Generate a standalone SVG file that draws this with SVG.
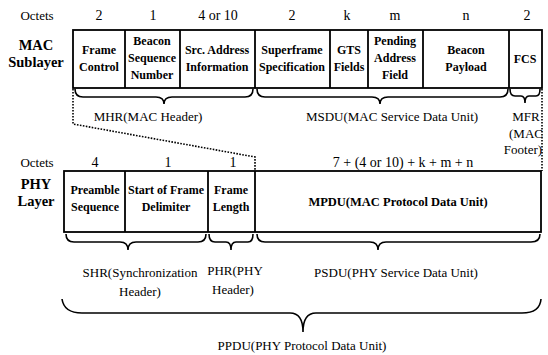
<svg xmlns="http://www.w3.org/2000/svg" width="548" height="355" viewBox="0 0 548 355">
<defs>
<style>
.box{fill:none;stroke:#000;stroke-width:1.8}
.div{stroke:#000;stroke-width:1.8}
.br{fill:none;stroke:#000;stroke-width:1.6}
.dot{fill:none;stroke:#000;stroke-width:1.6;stroke-dasharray:1.6 1.4}
</style>
</defs>
<rect width="548" height="355" fill="#fff"/>
<g id="labels">
<text style="font-family:'Liberation Serif',serif !important" font-size="13" text-anchor="middle" x="37" y="20">Octets</text>
<text style="font-family:'Liberation Serif',serif !important" font-size="14.5" font-weight="bold" text-anchor="middle" x="36" y="50">MAC</text>
<text style="font-family:'Liberation Serif',serif !important" font-size="14.5" font-weight="bold" text-anchor="middle" x="36" y="67">Sublayer</text>
<text style="font-family:'Liberation Serif',serif !important" font-size="13" text-anchor="middle" x="37" y="167">Octets</text>
<text style="font-family:'Liberation Serif',serif !important" font-size="14.5" font-weight="bold" text-anchor="middle" x="36" y="189">PHY</text>
<text style="font-family:'Liberation Serif',serif !important" font-size="14.5" font-weight="bold" text-anchor="middle" x="36" y="206">Layer</text>
</g>
<g id="mac-octets">
<text style="font-family:'Liberation Serif',serif !important" font-size="14" text-anchor="middle" x="99" y="20">2</text>
<text style="font-family:'Liberation Serif',serif !important" font-size="14" text-anchor="middle" x="153" y="20">1</text>
<text style="font-family:'Liberation Serif',serif !important" font-size="14" text-anchor="middle" x="218" y="20">4 or 10</text>
<text style="font-family:'Liberation Serif',serif !important" font-size="14" text-anchor="middle" x="292" y="20">2</text>
<text style="font-family:'Liberation Serif',serif !important" font-size="14" text-anchor="middle" x="347" y="20">k</text>
<text style="font-family:'Liberation Serif',serif !important" font-size="14" text-anchor="middle" x="395" y="20">m</text>
<text style="font-family:'Liberation Serif',serif !important" font-size="14" text-anchor="middle" x="466" y="20">n</text>
<text style="font-family:'Liberation Serif',serif !important" font-size="14" text-anchor="middle" x="527" y="20">2</text>
</g>
<g id="mac-frame">
<rect class="box" x="73" y="30" width="469" height="58"/>
<line class="div" x1="125" y1="30" x2="125" y2="88"/>
<line class="div" x1="180" y1="30" x2="180" y2="88"/>
<line class="div" x1="255" y1="30" x2="255" y2="88"/>
<line class="div" x1="330" y1="30" x2="330" y2="88"/>
<line class="div" x1="368" y1="30" x2="368" y2="88"/>
<line class="div" x1="423" y1="30" x2="423" y2="88"/>
<line class="div" x1="509" y1="30" x2="509" y2="88"/>
</g>
<g id="frame-control"><text style="font-family:'Liberation Serif',serif !important" font-size="12" font-weight="bold" text-anchor="middle" x="99" y="54">Frame</text><text style="font-family:'Liberation Serif',serif !important" font-size="12" font-weight="bold" text-anchor="middle" x="99" y="71">Control</text></g>
<g id="beacon-seq"><text style="font-family:'Liberation Serif',serif !important" font-size="12" font-weight="bold" text-anchor="middle" x="152" y="45">Beacon</text><text style="font-family:'Liberation Serif',serif !important" font-size="12" font-weight="bold" text-anchor="middle" x="152" y="62">Sequence</text><text style="font-family:'Liberation Serif',serif !important" font-size="12" font-weight="bold" text-anchor="middle" x="152" y="79">Number</text></g>
<g id="src-addr"><text style="font-family:'Liberation Serif',serif !important" font-size="12" font-weight="bold" text-anchor="middle" x="217" y="54">Src. Address</text><text style="font-family:'Liberation Serif',serif !important" font-size="12" font-weight="bold" text-anchor="middle" x="217" y="71">Information</text></g>
<g id="superframe"><text style="font-family:'Liberation Serif',serif !important" font-size="12" font-weight="bold" text-anchor="middle" x="292" y="54">Superframe</text><text style="font-family:'Liberation Serif',serif !important" font-size="12" font-weight="bold" text-anchor="middle" x="292" y="71">Specification</text></g>
<g id="gts"><text style="font-family:'Liberation Serif',serif !important" font-size="12" font-weight="bold" text-anchor="middle" x="349" y="54">GTS</text><text style="font-family:'Liberation Serif',serif !important" font-size="12" font-weight="bold" text-anchor="middle" x="349" y="71">Fields</text></g>
<g id="pending"><text style="font-family:'Liberation Serif',serif !important" font-size="12" font-weight="bold" text-anchor="middle" x="395" y="45">Pending</text><text style="font-family:'Liberation Serif',serif !important" font-size="12" font-weight="bold" text-anchor="middle" x="395" y="62">Address</text><text style="font-family:'Liberation Serif',serif !important" font-size="12" font-weight="bold" text-anchor="middle" x="395" y="79">Field</text></g>
<g id="payload"><text style="font-family:'Liberation Serif',serif !important" font-size="12" font-weight="bold" text-anchor="middle" x="466" y="54">Beacon</text><text style="font-family:'Liberation Serif',serif !important" font-size="12" font-weight="bold" text-anchor="middle" x="466" y="71">Payload</text></g>
<g id="fcs"><text style="font-family:'Liberation Serif',serif !important" font-size="12" font-weight="bold" text-anchor="middle" x="525" y="63">FCS</text></g>
<g id="mac-groups">
<text style="font-family:'Liberation Serif',serif !important" font-size="13" text-anchor="middle" x="148" y="121">MHR(MAC Header)</text>
<text style="font-family:'Liberation Serif',serif !important" font-size="13" text-anchor="middle" x="392" y="121">MSDU(MAC Service Data Unit)</text>
<text style="font-family:'Liberation Serif',serif !important" font-size="13" text-anchor="middle" x="526" y="121">MFR</text>
<text style="font-family:'Liberation Serif',serif !important" font-size="13" text-anchor="middle" x="526" y="138">(MAC</text>
<text style="font-family:'Liberation Serif',serif !important" font-size="13" text-anchor="middle" x="523" y="154">Footer)</text>
</g>
<g id="phy-octets">
<text style="font-family:'Liberation Serif',serif !important" font-size="14" text-anchor="middle" x="95" y="167">4</text>
<text style="font-family:'Liberation Serif',serif !important" font-size="14" text-anchor="middle" x="168" y="167">1</text>
<text style="font-family:'Liberation Serif',serif !important" font-size="14" text-anchor="middle" x="233" y="167">1</text>
<text style="font-family:'Liberation Serif',serif !important" font-size="14" text-anchor="middle" x="403" y="167">7 + (4 or 10) + k + m + n</text>
</g>
<g id="phy-frame">
<rect class="box" x="64" y="171" width="477" height="61"/>
<line class="div" x1="125" y1="171" x2="125" y2="232"/>
<line class="div" x1="208" y1="171" x2="208" y2="232"/>
<line class="div" x1="255" y1="171" x2="255" y2="232"/>
</g>
<g id="preamble"><text style="font-family:'Liberation Serif',serif !important" font-size="12" font-weight="bold" text-anchor="middle" x="95" y="194">Preamble</text><text style="font-family:'Liberation Serif',serif !important" font-size="12" font-weight="bold" text-anchor="middle" x="95" y="211">Sequence</text></g>
<g id="sfd"><text style="font-family:'Liberation Serif',serif !important" font-size="12" font-weight="bold" text-anchor="middle" x="166" y="194">Start of Frame</text><text style="font-family:'Liberation Serif',serif !important" font-size="12" font-weight="bold" text-anchor="middle" x="166" y="211">Delimiter</text></g>
<g id="frame-length"><text style="font-family:'Liberation Serif',serif !important" font-size="12" font-weight="bold" text-anchor="middle" x="231" y="194">Frame</text><text style="font-family:'Liberation Serif',serif !important" font-size="12" font-weight="bold" text-anchor="middle" x="231" y="211">Length</text></g>
<g id="mpdu"><text style="font-family:'Liberation Serif',serif !important" font-size="12.5" font-weight="bold" text-anchor="middle" x="398" y="206">MPDU(MAC Protocol Data Unit)</text></g>
<g id="phy-groups">
<text style="font-family:'Liberation Serif',serif !important" font-size="13" text-anchor="middle" x="140" y="277">SHR(Synchronization</text>
<text style="font-family:'Liberation Serif',serif !important" font-size="13" text-anchor="middle" x="140" y="296">Header)</text>
<text style="font-family:'Liberation Serif',serif !important" font-size="13" text-anchor="middle" x="235" y="275">PHR(PHY</text>
<text style="font-family:'Liberation Serif',serif !important" font-size="13" text-anchor="middle" x="233" y="294">Header)</text>
<text style="font-family:'Liberation Serif',serif !important" font-size="13" text-anchor="middle" x="396" y="277">PSDU(PHY Service Data Unit)</text>
<text style="font-family:'Liberation Serif',serif !important" font-size="13" text-anchor="middle" x="302" y="350">PPDU(PHY Protocol Data Unit)</text>
</g>
<g id="connectors">
<path class="br" d="M75,89 Q75,97 83,97 L156,97 Q164,97 164,104 Q164,97 172,97 L245,97 Q253,97 253,89"/>
<path class="br" d="M257,89 Q257,97 265,97 L372,97 Q380,97 380,104 Q380,97 388,97 L500,97 Q508,97 508,89"/>
<path class="br" d="M510,89 Q510,96 515,96 L521,96 Q525,96 525,103 Q525,96 529,96 L536,96 Q540,96 540,89"/>
<path class="br" d="M66,234 Q66,242 74,242 L120,242 Q128,242 128,250 Q128,242 136,242 L198,242 Q206,242 206,234"/>
<path class="br" d="M209,234 Q209,242 215,242 L226,242 Q231,242 231,250 Q231,242 236,242 L248,242 Q253,242 253,234"/>
<path class="br" d="M257,234 Q257,242 265,242 L370,242 Q378,242 378,250 Q378,242 386,242 L531,242 Q540,242 540,234"/>
<path class="br" d="M62,299 Q64,313 82,313 L290,313 Q303,313 303,332 Q303,313 316,313 L522,313 Q540,313 541,299"/>
<path class="dot" d="M73,89 V124 L255,157 V171"/>
<path class="dot" d="M542,89 V171"/>
</g>
</svg>
